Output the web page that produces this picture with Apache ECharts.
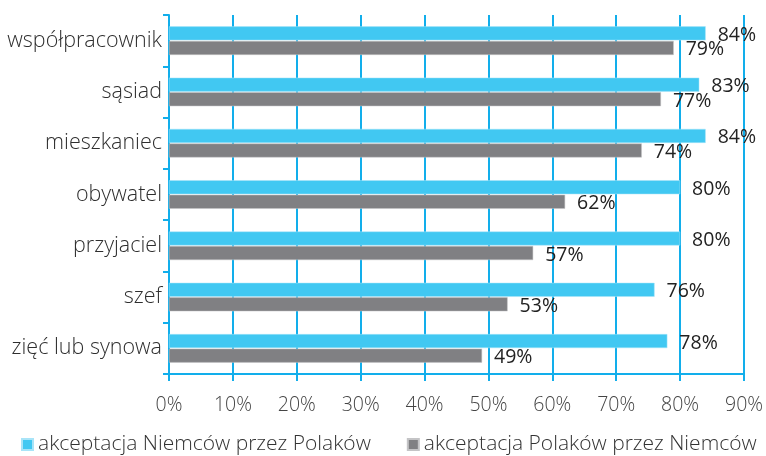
<!DOCTYPE html>
<html><head><meta charset="utf-8">
<script src="https://cdn.jsdelivr.net/npm/echarts@6/dist/echarts.min.js"></script>
<style>html,body{margin:0;padding:0;background:#fff}#c{width:766px;height:456px}</style>
</head><body><div id="c"></div>
<script>
const categories = ['współpracownik', 'sąsiad', 'mieszkaniec', 'obywatel', 'przyjaciel', 'szef', 'zięć lub synowa'];
const seriesNames = ['akceptacja Niemców przez Polaków', 'akceptacja Polaków przez Niemców'];
const polesAcceptGermans = [84, 83, 84, 80, 80, 76, 78];
const germansAcceptPoles = [79, 77, 74, 62, 57, 53, 49];
const xTicks = [0, 10, 20, 30, 40, 50, 60, 70, 80, 90];

const FONT = '"Open Sans", "Noto Sans", sans-serif';
const BLUE = '#12aeeb';
const chart = echarts.init(document.getElementById('c'), null, {renderer: 'canvas'});
const lbl = {
  show: true, position: 'right', distance: 12, offset: [0, 2],
  formatter: p => p.value + '%', color: '#222', fontSize: 19.5, fontWeight: 400, fontFamily: FONT
};
chart.setOption({
  animation: false,
  textStyle: {fontFamily: FONT},
  grid: {left: 169, right: 21, top: 15, bottom: 82, containLabel: false},
  legend: {
    data: seriesNames, left: 21, top: 434, width: 745, padding: 0, icon: 'rect',
    itemWidth: 11, itemHeight: 11, itemGap: 36,
    textStyle: {fontSize: 21, fontWeight: 300, color: '#333', fontFamily: FONT}
  },
  xAxis: {
    type: 'value', min: xTicks[0], max: xTicks[xTicks.length - 1], interval: 10,
    axisLine: {show: true, lineStyle: {color: BLUE, width: 2}},
    axisTick: {show: true, length: 7, lineStyle: {color: BLUE, width: 2}},
    splitLine: {show: true, lineStyle: {color: BLUE, width: 2}},
    axisLabel: {formatter: v => v + '%', color: '#444', fontSize: 19.5, fontWeight: 300, margin: 21, fontFamily: FONT}
  },
  yAxis: {
    type: 'category', data: categories, inverse: true,
    axisLine: {show: true, lineStyle: {color: BLUE, width: 2}},
    axisTick: {show: true, length: 6, lineStyle: {color: BLUE, width: 2}},
    axisLabel: {color: '#2e2e2e', fontSize: 21.5, fontWeight: 300, margin: 7, fontFamily: FONT}
  },
  series: [
    {name: seriesNames[0], type: 'bar', data: polesAcceptGermans, barWidth: 14, barGap: '4%',
     itemStyle: {color: '#41c8f2', borderColor: '#a8e4f8', borderWidth: 0.5}, label: lbl},
    {name: seriesNames[1], type: 'bar', data: germansAcceptPoles, barWidth: 14, barGap: '4%',
     itemStyle: {color: '#808083', borderColor: '#c4c4c6', borderWidth: 0.5}, label: lbl}
  ]
});
</script></body></html>
